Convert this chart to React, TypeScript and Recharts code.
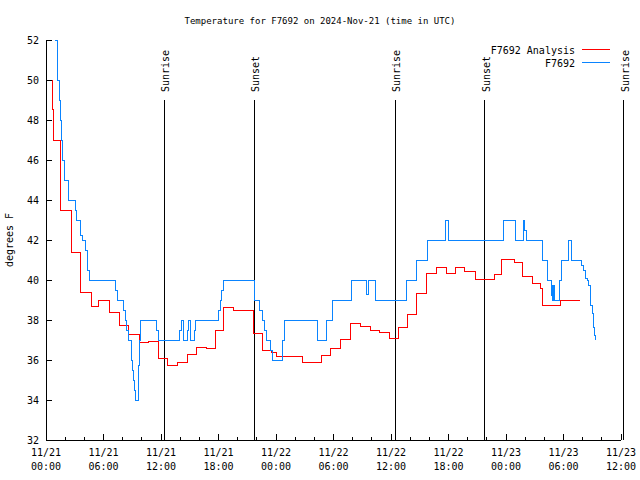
import { LineChart, Line, XAxis, YAxis, ReferenceLine } from "recharts";

// hours since 2024-11-21 00:00 UTC
const analysisHours = [0, 0.63, 0.75, 1.55, 2.68, 3.65, 4.7, 5.43, 6.61, 7.72, 8.59, 9.74, 10.68, 11.72, 12.7, 13.7, 14.74, 15.73, 16.77, 17.71, 18.5, 19.6, 21.7, 22.57, 23.55, 24.0, 26.75, 28.7, 29.71, 30.75, 31.8, 32.77, 33.81, 34.85, 35.82, 36.76, 37.7, 38.68, 39.73, 40.7, 41.74, 42.78, 43.69, 44.77, 46.75, 47.48, 48.84, 49.74, 50.75, 51.62, 51.79, 53.71, 55.72];
const analysisTemps = [50, 48.55, 47, 43.5, 41.4, 39.4, 38.7, 39, 38.4, 37.75, 37.3, 36.9, 36.95, 36.1, 35.75, 35.9, 36.3, 36.65, 36.6, 37.5, 38.65, 38.5, 37.35, 36.5, 36.4, 36.2, 35.9, 36.25, 36.6, 37.05, 37.85, 37.7, 37.5, 37.4, 37.1, 37.65, 38.3, 39.35, 40.35, 40.65, 40.35, 40.65, 40.45, 40.05, 40.3, 41.05, 40.87, 40.2, 39.85, 39.6, 38.75, 39.0, 39.0];

const observedHours = [0.9, 1.04, 1.15, 1.25, 1.36, 1.51, 1.62, 1.72, 1.88, 2.3, 3.13, 3.23, 3.55, 3.65, 3.86, 4.07, 4.28, 4.38, 4.49, 7.3, 7.41, 8.05, 8.25, 8.45, 8.66, 8.87, 9.0, 9.1, 9.2, 9.3, 9.6, 9.75, 9.91, 11.58, 11.69, 13.95, 14.1, 14.35, 14.75, 14.9, 15.1, 15.48, 15.58, 18.05, 18.16, 18.3, 18.5, 21.71, 22.33, 22.54, 22.75, 22.96, 23.4, 23.6, 24.73, 24.85, 28.38, 29.3, 29.85, 31.93, 33.4, 33.6, 34.4, 37.57, 38.71, 39.85, 41.64, 42.05, 47.79, 48.94, 49.8, 49.95, 50.1, 51.86, 52.38, 52.72, 52.78, 52.9, 53.0, 53.1, 53.55, 53.74, 54.5, 54.8, 55.9, 56.07, 56.25, 56.49, 56.63, 56.77, 56.85, 57.01, 57.11, 57.18, 57.25, 57.36];
const observedTemps = [53, 52, 51, 50, 49, 48, 47, 46, 45, 44, 43.5, 43, 42.5, 42.25, 42, 41.5, 41, 40.5, 40, 39.5, 39, 38.5, 38, 37.5, 37, 36, 35.5, 35, 34.5, 34, 35.75, 37, 38, 37.5, 37, 37.5, 38, 37, 37.5, 38, 37, 37.5, 38, 38.5, 39, 39.5, 40, 39, 38.5, 38, 37.5, 37, 36.5, 36, 37, 38, 37, 38, 39, 40, 39.3, 40, 39, 40, 41, 42, 43, 42, 43, 42, 43, 42.5, 42, 41, 40, 39.25, 39.75, 39, 39.75, 39, 40, 41, 42, 41, 40.75, 40.5, 40.1, 40, 39.75, 39.5, 38.75, 38.35, 38, 37.65, 37.25, 37];

const sunEventHours = [12.35, 21.74, 36.45, 45.78, 60.31];
const sunEventLabels = ["Sunrise", "Sunset", "Sunrise", "Sunset", "Sunrise"];

const xTickHours = [0, 2, 4, 6, 8, 10, 12, 14, 16, 18, 20, 22, 24, 26, 28, 30, 32, 34, 36, 38, 40, 42, 44, 46, 48, 50, 52, 54, 56, 58, 60];
const xMajorDates = ["11/21", "11/21", "11/21", "11/21", "11/22", "11/22", "11/22", "11/22", "11/23", "11/23", "11/23"];
const xMajorTimes = ["00:00", "06:00", "12:00", "18:00", "00:00", "06:00", "12:00", "18:00", "00:00", "06:00", "12:00"];
const yTicks = [32, 34, 36, 38, 40, 42, 44, 46, 48, 50, 52];

const seriesInfo = [
  { name: "F7692 Analysis", color: "#ff0000" },
  { name: "F7692", color: "#0a84ff" }
];

const analysisData = analysisHours.map((h, i) => ({ h, v: analysisTemps[i] }));
const observedData = observedHours.map((h, i) => ({ h, v: observedTemps[i] }));

const FONT = "'DejaVu Sans Mono', monospace";

function BottomTick(props: any) {
  const { x, y, payload } = props;
  const major = payload.value % 6 === 0;
  const idx = payload.value / 6;
  return (
    <g>
      <line x1={x} y1={y} x2={x} y2={y - (major ? 6 : 3)} stroke="#000" />
      {major && (
        <text x={x} y={y + 16} textAnchor="middle" fontFamily={FONT} fontSize={10} fill="#000">
          <tspan x={x}>{xMajorDates[idx]}</tspan>
          <tspan x={x} dy={14}>{xMajorTimes[idx]}</tspan>
        </text>
      )}
    </g>
  );
}

function TopTick(props: any) {
  const { x, y, payload } = props;
  const major = payload.value % 6 === 0;
  return <line x1={x} y1={y} x2={x} y2={y + (major ? 6 : 3)} stroke="#000" />;
}

function LeftTick(props: any) {
  const { x, y, payload } = props;
  return (
    <g>
      <line x1={x} y1={y} x2={x + 6} y2={y} stroke="#000" />
      <text x={x - 7} y={y + 3.5} textAnchor="end" fontFamily={FONT} fontSize={10} fill="#000">
        {payload.value}
      </text>
    </g>
  );
}

function RightTick(props: any) {
  const { x, y } = props;
  return <line x1={x} y1={y} x2={x - 6} y2={y} stroke="#000" />;
}

function sunLabel(text: string) {
  return (props: any) => {
    const vb = props.viewBox;
    const tx = vb.x + 5;
    const ty = vb.y - 8;
    return (
      <text x={tx} y={ty} transform={`rotate(-90 ${tx} ${ty})`} fontFamily={FONT} fontSize={10} fill="#000">
        {text}
      </text>
    );
  };
}

export default function App() {
  return (
    <div style={{ position: "absolute", left: 0, top: 0, width: 640, height: 480, background: "#fff" }}>
      <LineChart width={640} height={480} margin={{ top: 40, right: 19, bottom: 0, left: 0 }} style={{ shapeRendering: "crispEdges" }}>
        <XAxis
          xAxisId={0}
          type="number"
          dataKey="h"
          domain={[0, 60]}
          allowDataOverflow
          ticks={xTickHours}
          interval={0}
          height={40}
          tickSize={0}
          tickMargin={0}
          tickLine={false}
          axisLine={{ stroke: "#000" }}
          tick={<BottomTick />}
        />
        <XAxis
          xAxisId="top"
          orientation="top"
          type="number"
          dataKey="h"
          domain={[0, 60]}
          allowDataOverflow
          ticks={xTickHours}
          interval={0}
          height={0}
          tickSize={0}
          tickMargin={0}
          tickLine={false}
          axisLine={{ stroke: "#000" }}
          tick={<TopTick />}
        />
        <YAxis
          yAxisId={0}
          type="number"
          domain={[32, 52]}
          allowDataOverflow
          ticks={yTicks}
          interval={0}
          width={46}
          tickSize={0}
          tickMargin={0}
          tickLine={false}
          axisLine={{ stroke: "#000" }}
          tick={<LeftTick />}
        />
        <YAxis
          yAxisId="right"
          orientation="right"
          type="number"
          domain={[32, 52]}
          allowDataOverflow
          ticks={yTicks}
          interval={0}
          width={0}
          tickSize={0}
          tickMargin={0}
          tickLine={false}
          axisLine={{ stroke: "#000" }}
          tick={<RightTick />}
        />
        {sunEventHours.map((h, i) => (
          <ReferenceLine
            key={i}
            segment={[{ x: h, y: 32 }, { x: h, y: 49 }]}
            stroke="#000"
            strokeWidth={1}
            ifOverflow="visible"
            label={sunLabel(sunEventLabels[i])}
          />
        ))}
        <Line
          data={analysisData}
          dataKey="v"
          type="stepAfter"
          stroke={seriesInfo[0].color}
          strokeWidth={1}
          dot={false}
          activeDot={false}
          isAnimationActive={false}
        />
        <Line
          data={observedData}
          dataKey="v"
          type="stepAfter"
          stroke={seriesInfo[1].color}
          strokeWidth={1}
          dot={false}
          activeDot={false}
          isAnimationActive={false}
        />
      </LineChart>
      <svg width={640} height={480} style={{ position: "absolute", left: 0, top: 0, pointerEvents: "none", shapeRendering: "crispEdges" }}>
        <text x={320} y={23.5} textAnchor="middle" fontFamily={FONT} fontSize={9} fill="#000">
          Temperature for F7692 on 2024-Nov-21 (time in UTC)
        </text>
        <text x={13} y={240} textAnchor="middle" transform="rotate(-90 13 240)" fontFamily={FONT} fontSize={10} fill="#000">
          degrees F
        </text>
        {seriesInfo.map((s, i) => (
          <g key={s.name}>
            <text x={575} y={54 + i * 12.7} textAnchor="end" fontFamily={FONT} fontSize={10} fill="#000">
              {s.name}
            </text>
            <line x1={582} x2={610} y1={49.5 + i * 12.5} y2={49.5 + i * 12.5} stroke={s.color} />
          </g>
        ))}
      </svg>
    </div>
  );
}
